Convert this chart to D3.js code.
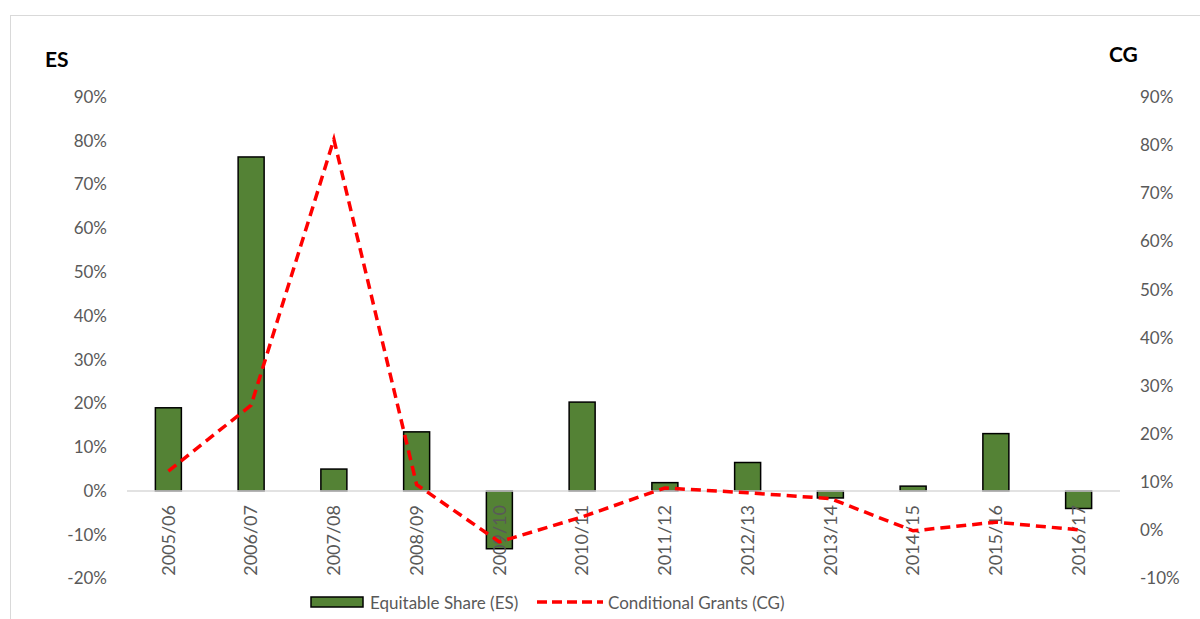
<!DOCTYPE html>
<html>
<head>
<meta charset="utf-8">
<script src="https://cdn.jsdelivr.net/npm/d3@7"></script>
<style>
  body { margin: 0; background: #fff; }
  svg text { font-family: Lato, "Open Sans", sans-serif; }
</style>
</head>
<body>
<div id="chart"></div>
<script>
var years = ["2005/06", "2006/07", "2007/08", "2008/09", "2009/10", "2010/11",
             "2011/12", "2012/13", "2013/14", "2014/15", "2015/16", "2016/17"];
// equitable share growth (%), left axis
var esValues = [19.0, 76.3, 5.0, 13.5, -13.2, 20.3, 1.9, 6.5, -1.6, 1.1, 13.1, -4.0];
// conditional grants growth (%), right axis
var cgValues = [12.3, 26.0, 81.2, 9.5, -2.4, 2.8, 8.8, 7.8, 6.6, -0.1, 1.7, 0.1];
var leftTicks = [-20, -10, 0, 10, 20, 30, 40, 50, 60, 70, 80, 90];
var rightTicks = [-10, 0, 10, 20, 30, 40, 50, 60, 70, 80, 90];
var seriesNames = ["Equitable Share (ES)", "Conditional Grants (CG)"];

var W = 1200, H = 619;
var plot = {left: 127, right: 1120, top: 97, bottom: 578.5};

var svg = d3.select("#chart").append("svg")
    .attr("width", W)
    .attr("height", H);

// outer chart frame
svg.append("rect")
    .attr("x", 10.5).attr("y", 15.5)
    .attr("width", W + 20).attr("height", H + 20)
    .attr("fill", "none")
    .attr("stroke", "#d9d9d9");

var x = d3.scaleBand()
    .domain(years)
    .range([plot.left, plot.right]);

var yL = d3.scaleLinear()
    .domain([-20, 90])
    .range([plot.bottom, plot.top]);

var yR = d3.scaleLinear()
    .domain([-10, 90])
    .range([plot.bottom, plot.top]);

// left axis
var leftAxis = svg.append("g")
    .attr("transform", "translate(" + 111 + ",0)")
    .call(d3.axisLeft(yL).tickValues(leftTicks).tickSize(0).tickPadding(4)
        .tickFormat(function(d){ return d + "%"; }));
leftAxis.select(".domain").remove();
leftAxis.selectAll("text")
    .attr("fill", "#595959")
    .style("font-size", "17px");

// right axis
var rightAxis = svg.append("g")
    .attr("transform", "translate(" + 1136 + ",0)")
    .call(d3.axisRight(yR).tickValues(rightTicks).tickSize(0).tickPadding(4)
        .tickFormat(function(d){ return d + "%"; }));
rightAxis.select(".domain").remove();
rightAxis.selectAll("text")
    .attr("fill", "#595959")
    .style("font-size", "17px");

// axis titles
svg.append("text")
    .attr("x", 45).attr("y", 67)
    .attr("font-weight", "bold")
    .style("font-size", "21px")
    .text("ES");

svg.append("text")
    .attr("x", 1109).attr("y", 62)
    .attr("font-weight", "bold")
    .style("font-size", "21px")
    .text("CG");

// bars
var barW = 26;
svg.append("g")
    .selectAll("rect")
    .data(esValues)
    .enter()
    .append("rect")
    .attr("x", function(d, i){ return x(years[i]) + x.bandwidth()/2 - barW/2; })
    .attr("y", function(d){ return yL(Math.max(d, 0)); })
    .attr("width", barW)
    .attr("height", function(d){ return Math.abs(yL(d) - yL(0)); })
    .attr("fill", "#548235")
    .attr("stroke", "#000")
    .attr("stroke-width", 1.5);

// zero line
svg.append("line")
    .attr("x1", plot.left).attr("x2", plot.right)
    .attr("y1", yL(0)).attr("y2", yL(0))
    .attr("stroke", "#d9d9d9")
    .attr("stroke-width", 1.5);

// x labels, rotated
svg.append("g")
    .selectAll("text")
    .data(years)
    .enter()
    .append("text")
    .attr("transform", function(d){
        return "translate(" + (x(d) + x.bandwidth()/2) + "," + 505 + ") rotate(-90)";
    })
    .attr("text-anchor", "end")
    .attr("dy", "0.35em")
    .attr("fill", "#595959")
    .style("font-size", "18px")
    .text(function(d){ return d; });

// CG line
var line = d3.line()
    .x(function(d, i){ return x(years[i]) + x.bandwidth()/2; })
    .y(function(d){ return yR(d); });

svg.append("path")
    .datum(cgValues)
    .attr("fill", "none")
    .attr("stroke", "#ff0000")
    .attr("stroke-width", 3.5)
    .attr("stroke-dasharray", "10,6")
    .attr("d", line);

// legend
var lg = svg.append("g");
lg.append("rect")
    .attr("x", 311).attr("y", 597)
    .attr("width", 52).attr("height", 10)
    .attr("fill", "#548235")
    .attr("stroke", "#000")
    .attr("stroke-width", 1.5);
lg.append("text")
    .attr("x", 370).attr("y", 609)
    .attr("fill", "#595959")
    .style("font-size", "17px")
    .text(seriesNames[0]);
lg.append("line")
    .attr("x1", 537).attr("x2", 603)
    .attr("y1", 602).attr("y2", 602)
    .attr("stroke", "#ff0000")
    .attr("stroke-width", 3.5)
    .attr("stroke-dasharray", "10,5");
lg.append("text")
    .attr("x", 608).attr("y", 609)
    .attr("fill", "#595959")
    .style("font-size", "17px")
    .text(seriesNames[1]);
</script>
</body>
</html>
